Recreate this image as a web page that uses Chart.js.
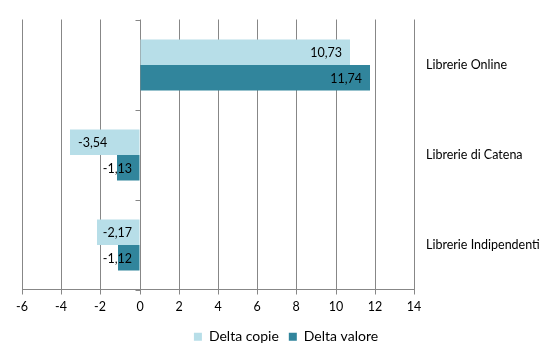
<!DOCTYPE html>
<html>
<head>
<meta charset="utf-8">
<script src="https://cdn.jsdelivr.net/npm/chart.js@4"></script>
<style>
  html, body { margin:0; padding:0; background:#fff; }
</style>
</head>
<body>
<canvas id="chart" width="550" height="360"></canvas>
<script>
var categories = ["Librerie Online", "Librerie di Catena", "Librerie Indipendenti"]
var deltaCopie = [10.73, -3.54, -2.17]
var deltaValore = [11.74, -1.13, -1.12]
var xMin = -6
var xMax = 14
var xStep = 2

var gridColor = "#878787"
var textColor = "#000000"
var fontFamily = "Lato, 'DejaVu Sans', sans-serif"

// value labels, excel style "inside end" with comma decimals
var valueLabels = {
  id: "valueLabels",
  afterDatasetsDraw: function(chart) {
    var ctx = chart.ctx
    var zero = chart.scales.x.getPixelForValue(0)
    ctx.save()
    ctx.font = "12.5px " + fontFamily
    ctx.fillStyle = textColor
    ctx.textBaseline = "middle"
    chart.data.datasets.forEach(function(ds, i) {
      chart.getDatasetMeta(i).data.forEach(function(bar, j) {
        var v = ds.data[j]
        var txt = v.toFixed(2).replace(".", ",")
        var w = ctx.measureText(txt).width
        var x
        if (v >= 0) {
          ctx.textAlign = "right"
          x = Math.max(bar.x - 8, zero + 8 + w)
        } else {
          ctx.textAlign = "left"
          x = Math.min(bar.x + 8, zero - 8 - w)
        }
        ctx.fillText(txt, x, bar.y + 1)
      })
    })
    ctx.restore()
  }
}

// little tick marks on the zero line between categories
var zeroTicks = {
  id: "zeroTicks",
  afterDatasetsDraw: function(chart) {
    var ctx = chart.ctx
    var x = Math.round(chart.scales.x.getPixelForValue(0)) + 0.5
    var y = chart.scales.y
    var step = y.getPixelForValue(1) - y.getPixelForValue(0)
    ctx.save()
    ctx.strokeStyle = gridColor
    ctx.lineWidth = 1
    ctx.beginPath()
    for (var i = 0; i <= categories.length; i++) {
      var yy = Math.round(y.getPixelForValue(0) - step / 2 + i * step) + 0.5
      ctx.moveTo(x - 5, yy)
      ctx.lineTo(x, yy)
    }
    ctx.stroke()
    ctx.restore()
  }
}

new Chart(document.getElementById("chart"), {
  type: "bar",
  data: {
    labels: categories,
    datasets: [
      {
        label: "Delta copie",
        data: deltaCopie,
        backgroundColor: "#B7DEE8",
        borderWidth: 0,
        categoryPercentage: 0.567,
        barPercentage: 1
      },
      {
        label: "Delta valore",
        data: deltaValore,
        backgroundColor: "#31859C",
        borderWidth: 0,
        categoryPercentage: 0.567,
        barPercentage: 1
      }
    ]
  },
  options: {
    indexAxis: "y",
    responsive: false,
    animation: false,
    devicePixelRatio: 1,
    layout: { padding: { top: 13, left: 22, right: 0, bottom: 6.25 } },
    plugins: {
      legend: {
        position: "bottom",
        labels: {
          boxWidth: 8,
          boxHeight: 8,
          padding: 10,
          color: textColor,
          font: { family: fontFamily, size: 14 }
        }
      },
      tooltip: { enabled: false }
    },
    scales: {
      x: {
        type: "linear",
        min: xMin,
        max: xMax,
        alignToPixels: true,
        ticks: {
          stepSize: xStep,
          padding: 5,
          color: textColor,
          font: { family: fontFamily, size: 12.5 }
        },
        grid: {
          color: gridColor,
          lineWidth: 1,
          tickLength: 5,
          tickColor: gridColor
        },
        border: { display: true, color: gridColor },
        afterFit: function(scale) { scale.height = 30.25 }
      },
      y: {
        position: "right",
        alignToPixels: true,
        grid: { display: false, drawTicks: false },
        border: { display: false },
        ticks: {
          padding: 12,
          color: textColor,
          font: { family: fontFamily, size: 12.5 }
        },
        afterFit: function(scale) { scale.width = 136 }
      }
    }
  },
  plugins: [valueLabels, zeroTicks]
})
</script>
</body>
</html>
